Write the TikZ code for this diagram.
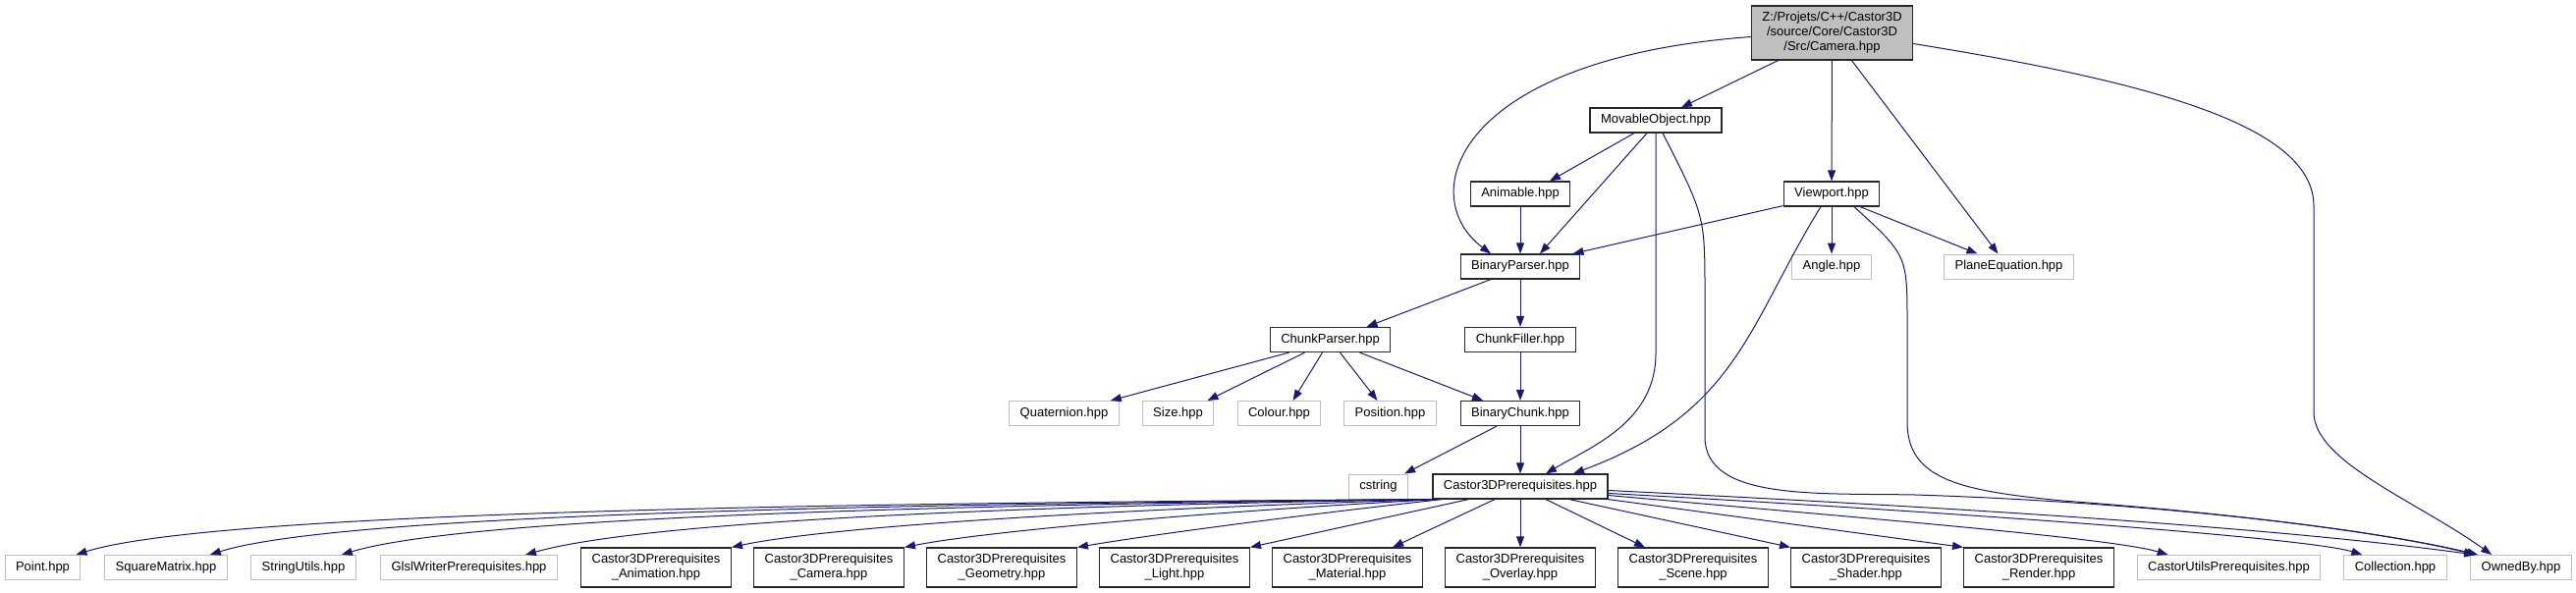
\documentclass[tikz,border=0pt]{standalone}
\usepackage{fontspec}
\setmainfont{Liberation Sans}
\usepackage{xcolor}
\definecolor{dxblue}{RGB}{25,25,112}
\definecolor{dxgray}{RGB}{191,191,191}
\definecolor{dxblack}{RGB}{40,40,40}
\usetikzlibrary{arrows.meta,positioning}

\begin{document}
\begin{tikzpicture}[
  x=1pt,y=-1pt,
  every node/.style={font=\fontsize{13pt}{15pt}\selectfont},
  filebox/.style={draw=dxblack,line width=1.2pt,fill=white,inner xsep=11pt,inner ysep=0pt,
                  minimum height=25pt,align=center},
  extbox/.style={filebox,draw=dxgray,line width=1pt},
  twobox/.style={filebox,minimum height=40pt},
  rootbox/.style={filebox,fill=dxgray,minimum height=55pt},
  incl/.style={draw=dxblue,line width=1pt,-{Triangle[length=11pt,width=8pt]}},
]
  \useasboundingbox (0,0) rectangle (2623,604);

  % Root: the header itself
  \node[rootbox] (camera) at (1865.5,33.5) {Z:/Projets/C++/Castor3D\\/source/Core/Castor3D\\/Src/Camera.hpp};

  % Direct includes
  \node[filebox] (movable)  at (1686,122.5) {MovableObject.hpp};
  \node[filebox] (animable) at (1548,197.5) {Animable.hpp};
  \node[filebox] (viewport) at (1865,197.5) {Viewport.hpp};
  \node[filebox] (bparser)  at (1548,271.5) {BinaryParser.hpp};
  \node[extbox]  (angle)    at (1865,271.5) {Angle.hpp};
  \node[extbox]  (planeeq)  at (2045.5,271.5) {PlaneEquation.hpp};

  % Chunk layer
  \node[filebox] (cparser)  at (1354.5,346) {ChunkParser.hpp};
  \node[filebox] (cfiller)  at (1548,346) {ChunkFiller.hpp};
  \node[extbox]  (quat)     at (1083.5,421) {Quaternion.hpp};
  \node[extbox]  (size)     at (1199.5,421) {Size.hpp};
  \node[extbox]  (colour)   at (1302.5,421) {Colour.hpp};
  \node[extbox]  (position) at (1415.5,421) {Position.hpp};
  \node[filebox] (bchunk)   at (1548,421) {BinaryChunk.hpp};
  \node[extbox]  (cstring)  at (1403.5,495.5) {cstring};
  \node[filebox] (c3d)      at (1548,495.5) {Castor3DPrerequisites.hpp};

  % Bottom row
  \node[extbox] (point)      at (43.5,578) {Point.hpp};
  \node[extbox] (sqmatrix)   at (169,578) {SquareMatrix.hpp};
  \node[extbox] (strutils)   at (309,578) {StringUtils.hpp};
  \node[extbox] (glslwriter) at (477.5,578) {GlslWriterPrerequisites.hpp};
  \node[twobox] (pranim)     at (668,578) {Castor3DPrerequisites\\\_Animation.hpp};
  \node[twobox] (prcamera)   at (844,578) {Castor3DPrerequisites\\\_Camera.hpp};
  \node[twobox] (prgeom)     at (1020,578) {Castor3DPrerequisites\\\_Geometry.hpp};
  \node[twobox] (prlight)    at (1196,578) {Castor3DPrerequisites\\\_Light.hpp};
  \node[twobox] (prmaterial) at (1372,578) {Castor3DPrerequisites\\\_Material.hpp};
  \node[twobox] (proverlay)  at (1548,578) {Castor3DPrerequisites\\\_Overlay.hpp};
  \node[twobox] (prscene)    at (1724,578) {Castor3DPrerequisites\\\_Scene.hpp};
  \node[twobox] (prshader)   at (1900,578) {Castor3DPrerequisites\\\_Shader.hpp};
  \node[twobox] (prrender)   at (2076,578) {Castor3DPrerequisites\\\_Render.hpp};
  \node[extbox] (cuprereq)   at (2269.5,578) {CastorUtilsPrerequisites.hpp};
  \node[extbox] (collection) at (2439,578) {Collection.hpp};
  \node[extbox] (ownedby)    at (2567,578) {OwnedBy.hpp};

  % Edges from the root
  \draw[incl] ([xshift=-55pt]camera.south) -- ([xshift=26pt]movable.north);
  \draw[incl] (camera) -- (viewport);
  \draw[incl] ([xshift=20pt]camera.south) -- ([xshift=-11pt]planeeq.north);
  \draw[incl] ([yshift=-4pt]camera.west) .. controls (1480,60) and (1440,200) .. ([xshift=-30pt]bparser.north);
  \draw[incl] ([yshift=-11pt]camera.east) .. controls (2200,85) and (2356,130) .. (2356,210)
    -- (2356,420) .. controls (2356,470) and (2460,510) .. ([xshift=22pt]ownedby.north west);

  % MovableObject
  \draw[incl] ([xshift=-22pt]movable.south) -- ([xshift=30pt]animable.north);
  \draw[incl] ([xshift=-9pt]movable.south) -- ([xshift=20pt]bparser.north);
  \draw[incl] (movable.south) -- (1686,360) .. controls (1686,430) and (1620,455) .. ([xshift=26pt]c3d.north);
  \draw[incl] ([xshift=7pt]movable.south) .. controls (1736,220) .. (1736,300) -- (1736,445)
    .. controls (1736,510) and (1850,502) .. (1950,504) .. controls (2200,512) and (2420,540) .. ([xshift=5pt]ownedby.north west);

  % Animable and Viewport
  \draw[incl] (animable) -- (bparser);
  \draw[incl] ([yshift=1pt]viewport.south west) -- ([xshift=-8pt]bparser.north east);
  \draw[incl] (viewport) -- (angle);
  \draw[incl] ([xshift=29pt]viewport.south) -- ([xshift=-32pt]planeeq.north);
  \draw[incl] ([xshift=-11pt]viewport.south) .. controls (1780,330) and (1770,420) .. ([xshift=54pt]c3d.north);
  \draw[incl] ([xshift=23pt]viewport.south) .. controls (1942,260) .. (1942,330) -- (1942,430)
    .. controls (1942,490) and (2000,500) .. (2100,510) .. controls (2300,525) and (2440,545) .. ([xshift=8pt]ownedby.north west);

  % BinaryParser and chunks
  \draw[incl] ([xshift=-30pt]bparser.south) -- ([xshift=37pt]cparser.north);
  \draw[incl] (bparser) -- (cfiller);
  \draw[incl] ([xshift=-42pt]cparser.south) -- ([xshift=-9pt]quat.north east);
  \draw[incl] ([xshift=-26pt]cparser.south) -- ([xshift=30pt]size.north);
  \draw[incl] ([xshift=-8pt]cparser.south) -- ([xshift=14pt]colour.north);
  \draw[incl] ([xshift=10pt]cparser.south) -- ([xshift=-13pt]position.north);
  \draw[incl] ([xshift=30pt]cparser.south) -- ([xshift=-38pt]bchunk.north);
  \draw[incl] (cfiller) -- (bchunk);
  \draw[incl] ([xshift=-24pt]bchunk.south) -- ([xshift=-4pt]cstring.north east);
  \draw[incl] (bchunk) -- (c3d);

  % Castor3DPrerequisites to the bottom row
  \draw[incl] (c3d.south west) .. controls (900,512) and (220,520) .. ([xshift=-5pt]point.north east);
  \draw[incl] (c3d.south west) .. controls (950,513) and (350,522) .. ([xshift=-18pt]sqmatrix.north east);
  \draw[incl] (c3d.south west) .. controls (1000,514) and (480,525) .. ([xshift=-15pt]strutils.north east);
  \draw[incl] ([xshift=2pt]c3d.south west) .. controls (1050,515) and (660,530) .. ([xshift=-33pt]glslwriter.north east);
  \draw[incl] ([xshift=4pt]c3d.south west) .. controls (1150,518) and (850,535) .. (pranim.north east);
  \draw[incl] ([xshift=6pt]c3d.south west) .. controls (1250,520) and (1010,540) .. (prcamera.north east);
  \draw[incl] ([xshift=10pt]c3d.south west) .. controls (1320,525) and (1170,545) .. (prgeom.north east);
  \draw[incl] ([xshift=37pt]c3d.south west) -- (prlight.north east);
  \draw[incl] ([xshift=-26pt]c3d.south) -- ([xshift=46pt]prmaterial.north);
  \draw[incl] (c3d) -- (proverlay);
  \draw[incl] ([xshift=26pt]c3d.south) -- ([xshift=-49pt]prscene.north);
  \draw[incl] ([xshift=50pt]c3d.south) -- (prshader.north west);
  \draw[incl] (c3d.south east) -- (prrender.north west);
  \draw[incl] ([yshift=-9pt]c3d.east) .. controls (1900,528) and (2150,548) .. ([xshift=32pt]cuprereq.north west);
  \draw[incl] ([yshift=-7pt]c3d.east) .. controls (2000,522) and (2350,548) .. ([xshift=19pt]collection.north west);
  \draw[incl] ([yshift=-4pt]c3d.east) .. controls (1950,515) and (2300,535) .. ([xshift=5pt]ownedby.north west);
\end{tikzpicture}
\end{document}
